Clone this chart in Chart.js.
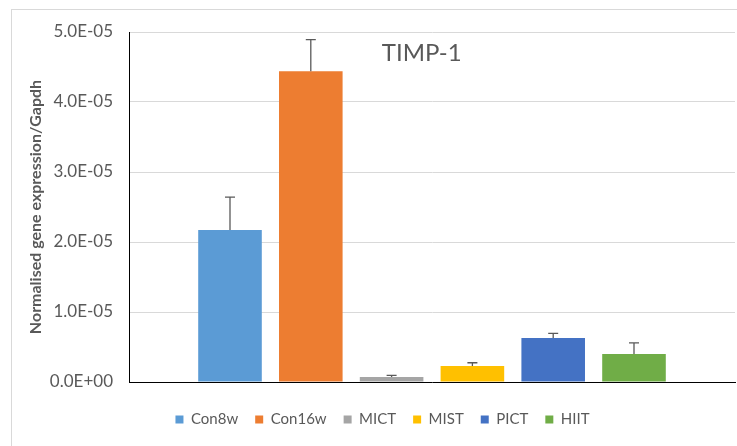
<!DOCTYPE html>
<html>
<head>
<meta charset="utf-8">
<script src="https://cdn.jsdelivr.net/npm/chart.js@4"></script>
<style>
  html, body { margin: 0; padding: 0; background: #fff; }
  #wrap { position: relative; width: 737px; height: 446px; }
  #frame { position: absolute; left: 11px; top: 9px; width: 740px; height: 460px; border: 1px solid #d9d9d9; box-sizing: border-box; }
  canvas { position: absolute; left: 0; top: 0; }
</style>
</head>
<body>
<div id="wrap">
  <div id="frame"></div>
  <canvas id="myChart" width="737" height="446"></canvas>
</div>
<script>
const groups = ['Con8w', 'Con16w', 'MICT', 'MIST', 'PICT', 'HIIT'];
const means = [2.17e-5, 4.44e-5, 0.07e-5, 0.23e-5, 0.63e-5, 0.40e-5];
const errors = [0.47e-5, 0.45e-5, 0.025e-5, 0.045e-5, 0.065e-5, 0.16e-5];
const colors = ['#5B9BD5', '#ED7D31', '#A5A5A5', '#FFC000', '#4472C4', '#70AD47'];
const yTicks = [0, 1e-5, 2e-5, 3e-5, 4e-5, 5e-5];

const textGray = '#595959';

const fmtSci = (v) => {
    if (Math.abs(v) < 1e-12) return '0.0E+00';
    const [m, e] = v.toExponential(1).split('e');
    const n = parseInt(e, 10);
    return m + 'E' + (n < 0 ? '-' : '+') + String(Math.abs(n)).padStart(2, '0');
};

// error bars + the TIMP-1 label inside the plot
const extras = {
    id: 'extras',
    afterDatasetsDraw(chart) {
        const ctx = chart.ctx;
        const y = chart.scales.y;
        ctx.save();
        ctx.strokeStyle = '#595959';
        ctx.lineWidth = 1.3;
        chart.data.datasets.forEach((ds, i) => {
            const bar = chart.getDatasetMeta(i).data[0];
            const x = bar.x;
            const y0 = y.getPixelForValue(means[i]);
            const y1 = y.getPixelForValue(means[i] + errors[i]);
            ctx.beginPath();
            ctx.moveTo(x, y0);
            ctx.lineTo(x, y1);
            ctx.moveTo(x - 5, y1);
            ctx.lineTo(x + 5, y1);
            ctx.stroke();
        });
        const a = chart.chartArea;
        ctx.fillStyle = textGray;
        ctx.font = '24px Lato';
        ctx.textAlign = 'center';
        ctx.textBaseline = 'alphabetic';
        ctx.fillText('TIMP-1', a.left + (a.right - a.left) * 0.483, a.top + 29);
        ctx.restore();
    }
};

const ctx = document.getElementById('myChart').getContext('2d');
new Chart(ctx, {
    type: 'bar',
    data: {
        labels: [''],
        datasets: groups.map((g, i) => ({
            label: g,
            data: [means[i]],
            backgroundColor: colors[i],
            borderWidth: 0,
            categoryPercentage: 0.80,
            barPercentage: 0.787
        }))
    },
    options: {
        responsive: false,
        animation: false,
        layout: { padding: { left: 30, right: 2, top: 32, bottom: 9 } },
        plugins: {
            legend: {
                position: 'bottom',
                labels: {
                    boxWidth: 8,
                    boxHeight: 8,
                    padding: 17,
                    color: textGray,
                    font: { family: 'Lato', size: 15 }
                }
            },
            tooltip: { enabled: false }
        },
        scales: {
            x: {
                grid: { display: false },
                border: { color: '#000', width: 1 },
                ticks: { display: false },
                afterFit: (s) => { s.height = 13; }
            },
            y: {
                min: 0,
                max: 5e-5,
                afterBuildTicks: (s) => { s.ticks = yTicks.map(v => ({ value: v })); },
                grid: { color: '#d9d9d9', drawTicks: false },
                border: { color: '#000', width: 1 },
                ticks: {
                    padding: 16,
                    color: textGray,
                    font: { family: 'Lato', size: 17 },
                    callback: (v) => fmtSci(v)
                },
                title: {
                    display: true,
                    text: 'Normalised gene expression/Gapdh',
                    color: textGray,
                    font: { family: 'Lato', size: 16, weight: 'bold' },
                    padding: { top: -4, bottom: 0 }
                },
                afterFit: (s) => { s.width = 99; }
            }
        }
    },
    plugins: [extras]
});
</script>
</body>
</html>
